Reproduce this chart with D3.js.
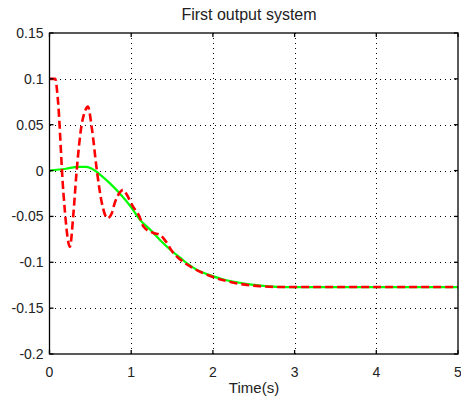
<!DOCTYPE html>
<html><head><meta charset="utf-8">
<script src="https://cdn.jsdelivr.net/npm/d3@7"></script>
<style>body{margin:0;background:#fff}svg{display:block}text{font-family:"Liberation Sans",Arial,sans-serif}</style>
</head><body>
<script>
const xTicks=[0,1,2,3,4,5];
const yTicks=[0.15,0.1,0.05,0,-0.05,-0.1,-0.15,-0.2];
const yTickLabels=["0.15","0.1","0.05","0","-0.05","-0.1","-0.15","-0.2"];
const redT=[0,0.07,0.1,0.17,0.25,0.29,0.33,0.39,0.44,0.47,0.52,0.58,0.64,0.71,0.76,0.8,0.86,0.9,0.93,1.02,1.1,1.15,1.27,1.35,1.43,1.5,1.6,1.75,2.0,2.24,2.57,2.9,3.5,4.0,5.0];
const redY=[0.1,0.1,0.08,-0.024,-0.083,-0.05,-0.003,0.048,0.066,0.0697,0.045,0,-0.035,-0.052,-0.047,-0.035,-0.024,-0.021,-0.024,-0.039,-0.05,-0.061,-0.068,-0.07,-0.078,-0.088,-0.097,-0.106,-0.116,-0.122,-0.126,-0.127,-0.127,-0.127,-0.127];
const greenT=[0,0.2,0.35,0.45,0.52,0.6,0.74,0.86,1.0,1.1,1.25,1.39,1.5,1.6,1.68,1.8,1.96,2.1,2.24,2.45,2.65,2.9,3.2,4.0,5.0];
const greenY=[0,0.002,0.004,0.004,0.002,-0.003,-0.014,-0.025,-0.04,-0.053,-0.066,-0.079,-0.088,-0.095,-0.101,-0.108,-0.114,-0.118,-0.121,-0.124,-0.126,-0.127,-0.127,-0.127,-0.127];

const W=461,H=403,L=49.5,R=458,T=33,B=354;
const svg=d3.select("body").append("svg").attr("width",W).attr("height",H);
const x=d3.scaleLinear().domain([0,5]).range([L,R]);
const y=d3.scaleLinear().domain([-0.2,0.15]).range([B,T]);

// grid
const g=svg.append("g").attr("stroke","#000").attr("stroke-width",1).attr("stroke-dasharray","1,4").attr("shape-rendering","crispEdges");
xTicks.slice(1,-1).forEach(v=>g.append("line").attr("x1",Math.round(x(v))+0.5).attr("x2",Math.round(x(v))+0.5).attr("y1",T).attr("y2",B));
yTicks.slice(1,-1).forEach(v=>g.append("line").attr("y1",Math.round(y(v))+0.5).attr("y2",Math.round(y(v))+0.5).attr("x1",L).attr("x2",R));

// lines
const lineR=d3.line().x((d,i)=>x(redT[i])).y(d=>y(d)).curve(d3.curveMonotoneX);
const lineG=d3.line().x((d,i)=>x(greenT[i])).y(d=>y(d)).curve(d3.curveMonotoneX);
svg.append("path").attr("d",lineG(greenY)).attr("fill","none").attr("stroke","#00ff00").attr("stroke-width",2.2);
svg.append("path").attr("d",lineR(redY)).attr("fill","none").attr("stroke","#ff0000").attr("stroke-width",2.6).attr("stroke-dasharray","8,4");

// axes box
const ax=svg.append("g").attr("stroke","#000").attr("stroke-width",1.3).attr("fill","none");
ax.append("rect").attr("x",L).attr("y",T).attr("width",R-L).attr("height",B-T);
xTicks.forEach(v=>{ax.append("line").attr("x1",x(v)).attr("x2",x(v)).attr("y1",B).attr("y2",B-4);ax.append("line").attr("x1",x(v)).attr("x2",x(v)).attr("y1",T).attr("y2",T+4);});
yTicks.forEach(v=>{ax.append("line").attr("y1",y(v)).attr("y2",y(v)).attr("x1",L).attr("x2",L+4);ax.append("line").attr("y1",y(v)).attr("y2",y(v)).attr("x1",R).attr("x2",R-4);});

// labels
svg.selectAll(".yl").data(yTicks).enter().append("text").attr("x",L-6).attr("y",d=>y(d)+5).attr("text-anchor","end").attr("font-size",14).attr("fill","#222").text((d,i)=>yTickLabels[i]);
svg.selectAll(".xl").data(xTicks).enter().append("text").attr("x",d=>x(d)).attr("y",B+23).attr("text-anchor","middle").attr("font-size",14).attr("fill","#222").text(d=>d);
svg.append("text").attr("x",254).attr("y",393).attr("text-anchor","middle").attr("font-size",15).attr("fill","#222").text("Time(s)");
svg.append("text").attr("x",249).attr("y",20).attr("text-anchor","middle").attr("font-size",16).attr("fill","#222").text("First output system");
</script>
</body></html>
